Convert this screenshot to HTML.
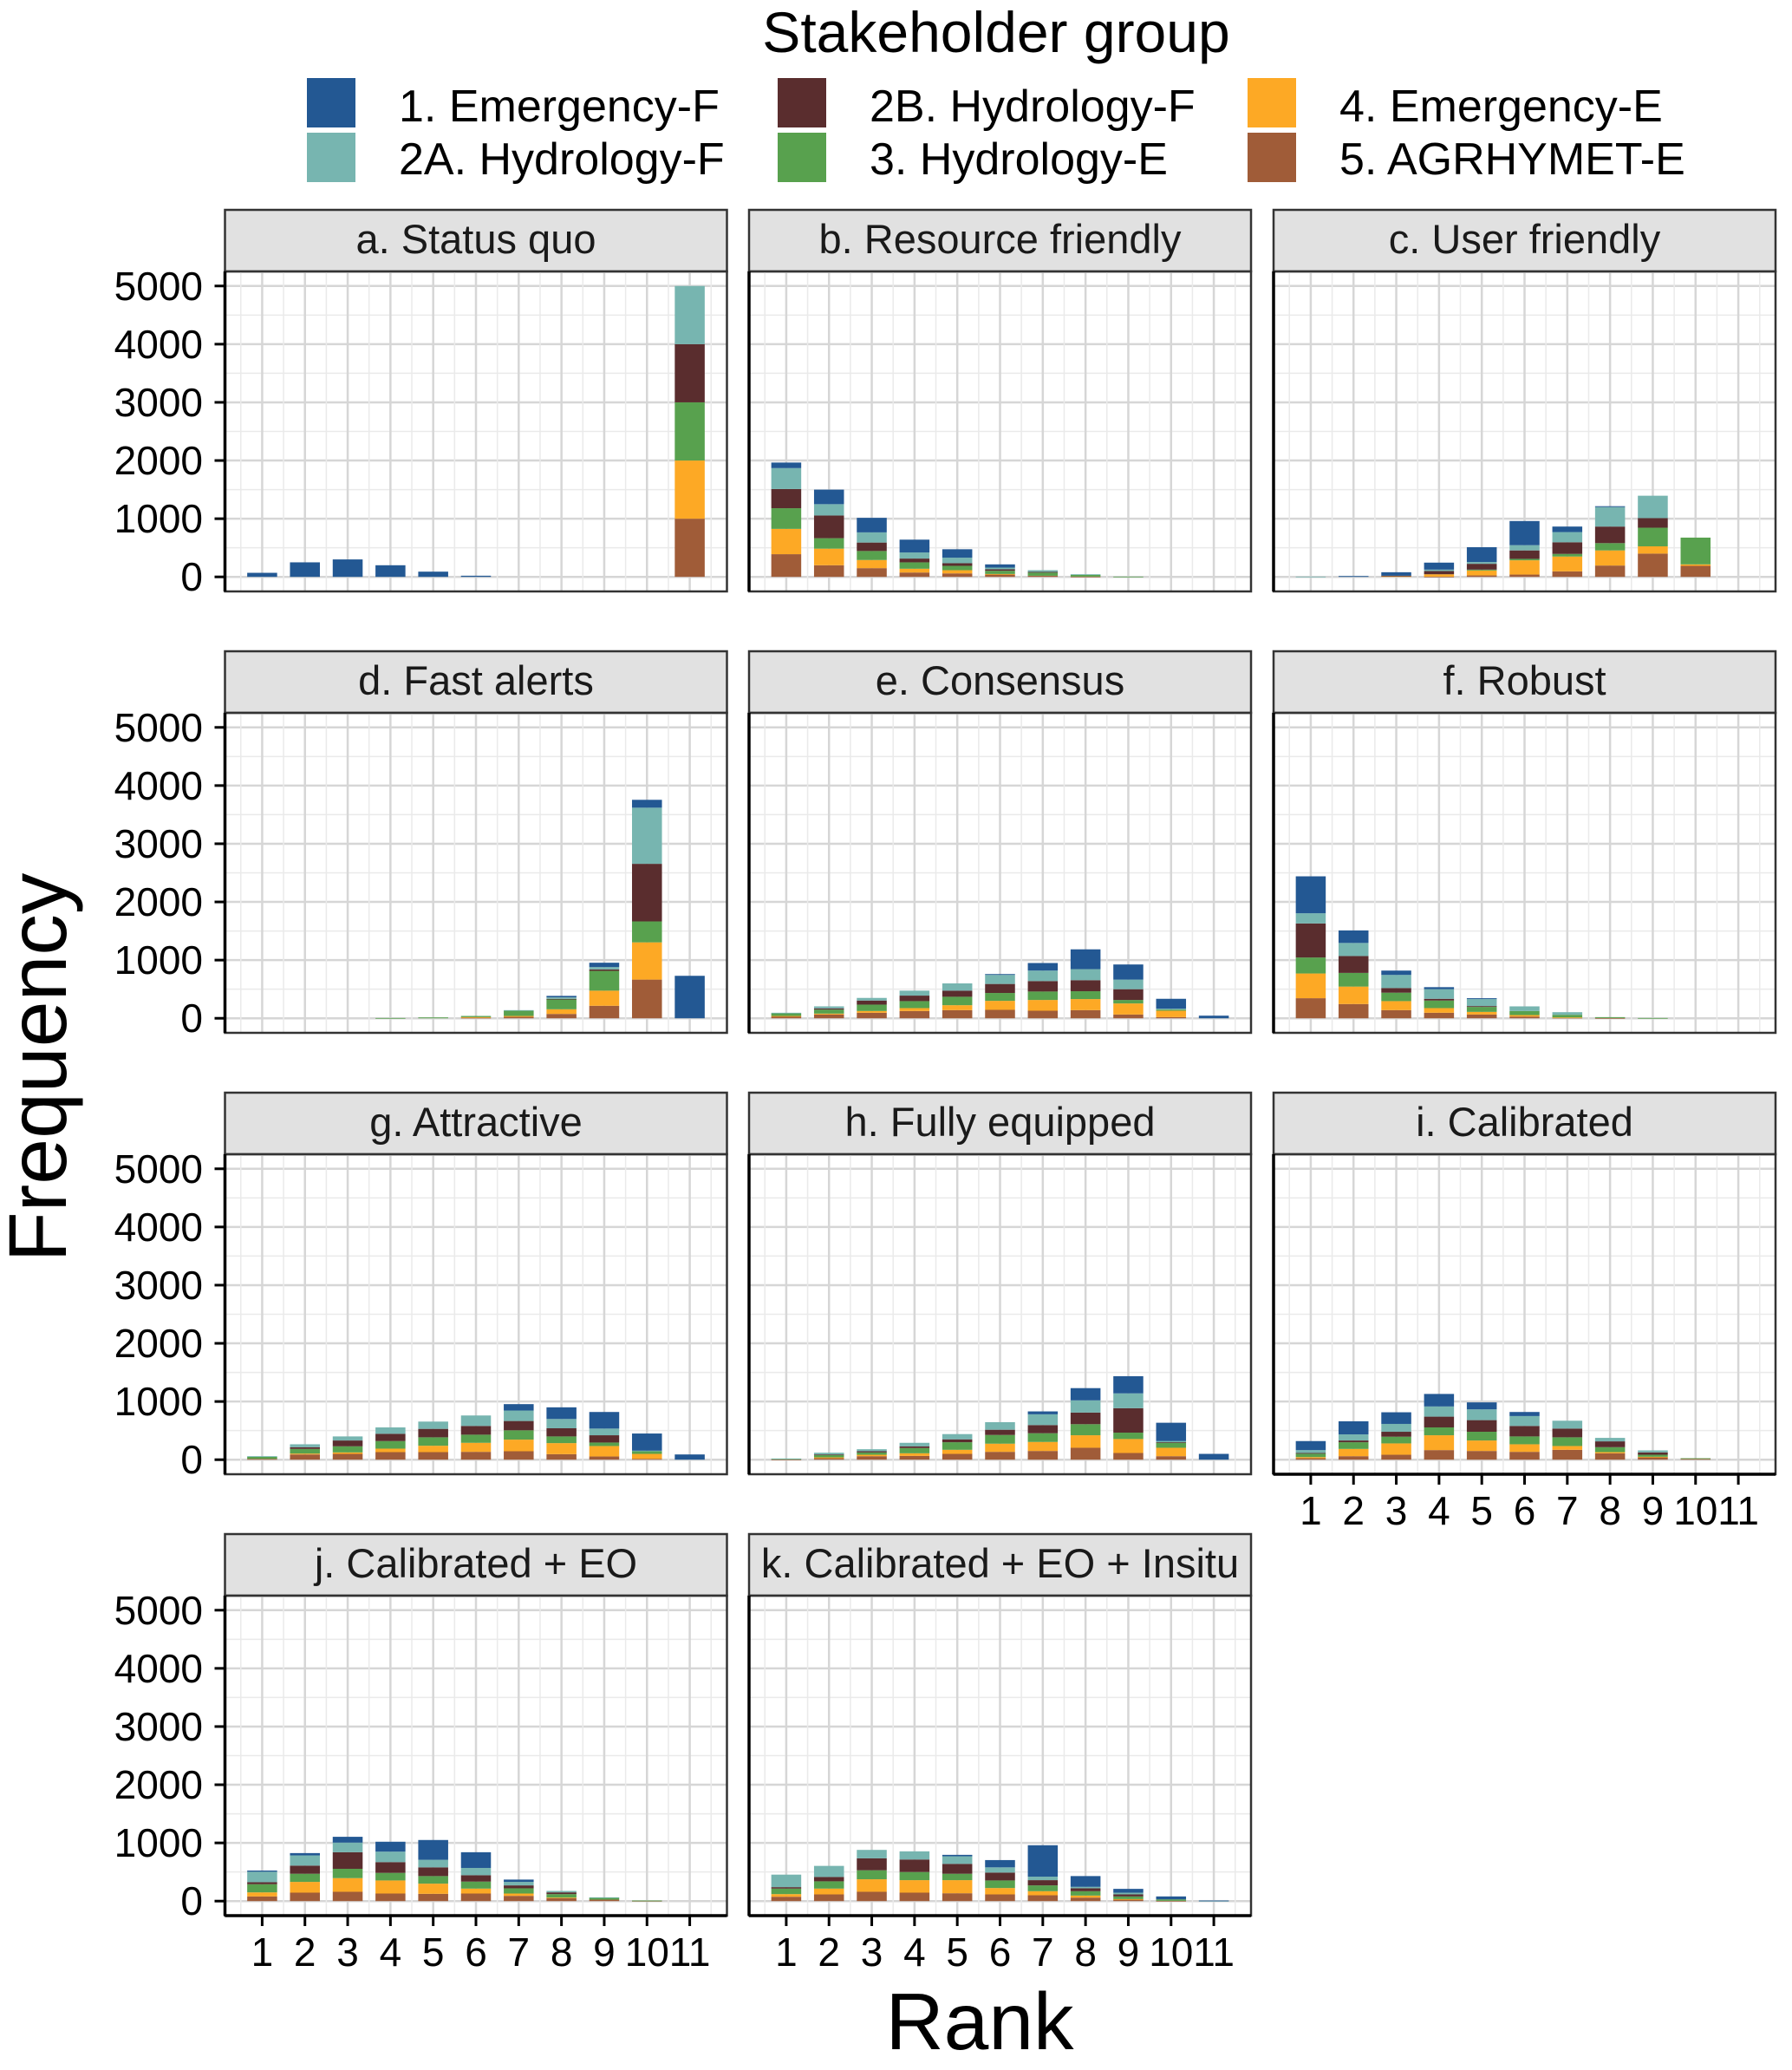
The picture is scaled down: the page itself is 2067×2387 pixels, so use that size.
<!DOCTYPE html>
<html><head><meta charset="utf-8"><title>Stakeholder rank frequencies</title>
<style>
html,body{margin:0;padding:0;background:#fff;}
svg{display:block;font-family:"Liberation Sans",Arial,sans-serif;}
</style></head>
<body>
<svg id="chartsvg" width="2067" height="2387" viewBox="0 0 2067 2387" xmlns="http://www.w3.org/2000/svg">
  <rect x="0" y="0" width="2067" height="2387" fill="#fff"/>
  <g id="legendgrp">
    <text x="1149" y="60" font-size="66" text-anchor="middle" fill="#000">Stakeholder group</text>
  </g>
  <g id="panelsgrp"></g>
  <text x="76" y="1231" font-size="95" text-anchor="middle" transform="rotate(-90 76 1231)" fill="#000">Frequency</text>
  <text x="1130" y="2363" font-size="93" text-anchor="middle" fill="#000">Rank</text>
</svg>
<script>
var rankCategories = [1,2,3,4,5,6,7,8,9,10,11];
var groupNames = ["1. Emergency-F","2A. Hydrology-F","2B. Hydrology-F","3. Hydrology-E","4. Emergency-E","5. AGRHYMET-E"];
var groupColors = ["#235893","#77B5B0","#5A2D2E","#58A14E","#FDA925","#A05C38"];
var yTickValues = [0,1000,2000,3000,4000,5000];
var panelTitles = ["a. Status quo","b. Resource friendly","c. User friendly","d. Fast alerts","e. Consensus","f. Robust","g. Attractive","h. Fully equipped","i. Calibrated","j. Calibrated + EO","k. Calibrated + EO + Insitu"];

// rows = groups in legend order (1, 2A, 2B, 3, 4, 5); columns = ranks 1..11
var panelA = [
  [70,250,300,200,90,20,0,0,0,0,0],
  [0,0,0,0,0,0,0,0,0,0,1000],
  [0,0,0,0,0,0,0,0,0,0,1000],
  [0,0,0,0,0,0,0,0,0,0,1000],
  [0,0,0,0,0,0,0,0,0,0,1000],
  [0,0,0,0,0,0,0,0,0,0,1000]];
var panelB = [
  [95,250,250,220,145,55,0,0,0,0,0],
  [360,195,175,105,95,30,30,10,0,0,0],
  [330,390,145,65,45,25,10,0,0,0,0],
  [355,180,155,110,75,55,55,30,5,0,0],
  [435,285,140,65,55,10,0,0,0,0,0],
  [390,200,150,75,60,40,20,5,0,0,0]];
var panelC = [
  [0,15,60,120,255,415,95,15,0,0,0],
  [5,0,0,25,30,90,175,335,385,0,0],
  [0,0,5,55,100,145,200,285,165,0,0],
  [0,0,0,0,15,25,45,125,320,460,0],
  [0,0,15,40,85,245,255,260,125,25,0],
  [0,0,0,5,25,40,95,195,400,190,0]];
var panelD = [
  [0,0,0,0,0,0,0,25,75,135,730],
  [0,0,0,0,0,0,10,25,40,965,0],
  [0,0,0,0,0,0,0,5,25,990,0],
  [0,0,0,5,15,20,90,175,340,360,0],
  [0,0,0,0,0,10,15,80,260,640,0],
  [0,0,0,0,0,10,25,75,215,665,0]];
var panelE = [
  [0,0,0,0,0,15,130,340,260,170,45],
  [10,35,45,85,125,155,180,190,165,15,0],
  [0,20,70,95,105,155,180,190,185,0,0],
  [45,70,110,120,145,135,145,135,60,20,0],
  [5,15,30,50,85,155,185,190,190,110,0],
  [35,65,95,125,140,145,130,140,65,20,0]];
var panelF = [
  [635,215,75,35,15,0,0,0,0,0,0],
  [175,225,225,165,120,80,45,0,0,0,0],
  [585,290,80,30,15,0,0,0,0,0,0],
  [275,235,145,130,85,70,45,15,5,0,0],
  [425,300,155,80,45,25,5,0,0,0,0],
  [345,245,140,95,65,30,10,5,0,0,0]];
var panelG = [
  [0,0,0,0,0,0,110,200,285,295,90],
  [10,50,70,110,125,180,180,160,115,5,0],
  [0,30,100,125,145,150,160,140,125,0,0],
  [35,80,105,130,145,140,160,115,60,50,0],
  [0,15,25,60,110,155,200,190,180,85,0],
  [15,90,100,130,130,135,145,95,55,15,0]];
var panelH = [
  [0,0,0,0,0,0,50,210,295,315,100],
  [5,30,35,60,90,130,185,210,255,20,0],
  [0,5,20,30,50,90,140,200,420,5,0],
  [10,45,40,90,130,150,150,190,110,90,0],
  [0,15,25,45,70,140,155,215,240,145,0],
  [5,25,60,65,100,135,150,205,115,60,0]];
var panelI = [
  [155,225,200,215,120,70,0,0,0,0,0],
  [50,105,135,175,185,170,135,60,35,0,0],
  [10,30,85,185,200,180,150,100,40,0,0],
  [60,115,115,135,150,135,150,85,35,10,0],
  [20,125,195,255,180,130,65,20,5,0,0],
  [25,60,85,165,150,135,170,110,45,15,0]];
var panelJ = [
  [20,40,100,170,340,270,40,0,0,0,0],
  [180,175,165,180,130,125,60,25,10,0,0],
  [35,140,285,185,150,110,50,30,0,0,0],
  [140,140,160,130,130,120,90,60,30,5,0],
  [70,185,235,225,175,85,40,5,0,0,0],
  [80,145,160,130,125,130,90,55,25,5,0]];
var panelK = [
  [0,0,0,0,25,125,540,185,65,50,5],
  [215,190,145,140,130,90,60,25,30,0,5],
  [25,75,205,215,170,135,90,50,35,0,0],
  [95,125,155,140,110,130,100,75,45,25,0],
  [45,100,215,215,225,110,70,35,5,0,0],
  [75,115,160,145,135,115,100,60,30,5,0]];
var panelDataList = [panelA,panelB,panelC,panelD,panelE,panelF,panelG,panelH,panelI,panelJ,panelK];

(function(){
  var SVGNS = "http://www.w3.org/2000/svg";
  function mk(tag, attrs, par){
    var e = document.createElementNS(SVGNS, tag);
    for (var k in attrs) e.setAttribute(k, attrs[k]);
    if (par) par.appendChild(e);
    return e;
  }
  var colX = [259.5, 864, 1469];
  var pW = 579, rowStep = 509;
  var stripTop0 = 242, stripH = 71, panelTop0 = 313, pH = 369;
  var yMin = -250, yMax = 5250;
  var xMin = 0.13, xMax = 11.87;
  var barFrac = 0.7;

  var leg = document.getElementById('legendgrp');
  var legKeyX = [354, 897, 1439], legKeyY = [90, 153];
  var legTextX = [460, 1003, 1545], legTextY = [140, 201];
  for (var i = 0; i < groupNames.length; i++) {
    var c = Math.floor(i / 2), r = i % 2;
    var key = mk('rect', {x: legKeyX[c], y: legKeyY[r], width: 56, height: 57, fill: groupColors[i]}, leg);
    
    
    var lt = mk('text', {x: legTextX[c], y: legTextY[r], 'font-size': 52, fill: '#000'}, leg);
    lt.textContent = groupNames[i];
    
    
  }

  var pg = document.getElementById('panelsgrp');
  for (var p = 0; p < panelDataList.length; p++) {
    try {
      var data = panelDataList[p];
      var col = p % 3, row = Math.floor(p / 3);
      var x0 = colX[col];
      var pTop = panelTop0 + row * rowStep;
      var sTop = stripTop0 + row * rowStep;
      var xs = (function(x0){ return function(v){ return x0 + (v - xMin) / (xMax - xMin) * pW; }; })(x0);
      var ys = (function(pTop){ return function(v){ return pTop + pH - (v - yMin) / (yMax - yMin) * pH; }; })(pTop);
      var unit = pW / (xMax - xMin);
      var g = mk('g', {}, pg);
      
      

      var strip = mk('rect', {x: x0, y: sTop, width: pW, height: stripH, fill: '#E1E1E1', stroke: '#333', 'stroke-width': 2.5}, g);
      
      
      var st = mk('text', {x: x0 + pW / 2, y: sTop + 50, 'font-size': 47, 'text-anchor': 'middle', fill: '#1a1a1a'}, g);
      st.textContent = panelTitles[p];
      
      

      var grid = mk('g', {}, g);
      
      
      for (var v = 0; v <= 5000; v += 500) {
        var maj = v % 1000 === 0;
        mk('line', {x1: x0, x2: x0 + pW, y1: ys(v), y2: ys(v), stroke: maj ? '#D6D6D6' : '#EAEAEA', 'stroke-width': maj ? 2.5 : 1.5}, grid);
      }
      for (var rr = 0.5; rr <= 11.5; rr += 0.5) {
        var majx = (rr % 1) === 0;
        mk('line', {x1: xs(rr), x2: xs(rr), y1: pTop, y2: pTop + pH, stroke: majx ? '#D6D6D6' : '#EAEAEA', 'stroke-width': majx ? 2.5 : 1.5}, grid);
      }

      for (var ri = 0; ri < rankCategories.length; ri++) {
        var rk = rankCategories[ri];
        var cum = 0;
        for (var gi = groupNames.length - 1; gi >= 0; gi--) {
          var val = data[gi][ri];
          if (!(val > 0)) continue;
          var yTop = ys(cum + val), yBot = ys(cum);
          var b = mk('rect', {x: xs(rk) - barFrac / 2 * unit, y: yTop, width: barFrac * unit, height: Math.max(yBot - yTop, 0.8), fill: groupColors[gi]}, g);
          
          
          cum += val;
        }
      }

      var border = mk('rect', {x: x0, y: pTop, width: pW, height: pH, fill: 'none', stroke: '#333', 'stroke-width': 2.5}, g);
      
      
      mk('line', {x1: x0, x2: x0, y1: pTop, y2: pTop + pH, stroke: '#000', 'stroke-width': 3.5}, g);

      if (col === 0) {
        for (var ti = 0; ti < yTickValues.length; ti++) {
          var t = yTickValues[ti];
          mk('line', {x1: x0 - 12, x2: x0, y1: ys(t), y2: ys(t), stroke: '#000', 'stroke-width': 3}, g);
          var yl = mk('text', {x: 234, y: ys(t) + 16, 'font-size': 46, 'text-anchor': 'end', fill: '#000'}, g);
          yl.textContent = String(t);
          
          
        }
      }
      if (p >= 8) {
        mk('line', {x1: x0, x2: x0 + pW, y1: pTop + pH, y2: pTop + pH, stroke: '#000', 'stroke-width': 3.5}, g);
        for (var xi = 0; xi < rankCategories.length; xi++) {
          var rc = rankCategories[xi];
          mk('line', {x1: xs(rc), x2: xs(rc), y1: pTop + pH, y2: pTop + pH + 12, stroke: '#000', 'stroke-width': 3}, g);
          var xt = mk('text', {x: xs(rc), y: pTop + pH + 58, 'font-size': 46, 'text-anchor': 'middle', fill: '#000'}, g);
          xt.textContent = String(rc);
          
          
        }
      }
    } catch (err) {}
  }
})();
</script>
</body></html>
